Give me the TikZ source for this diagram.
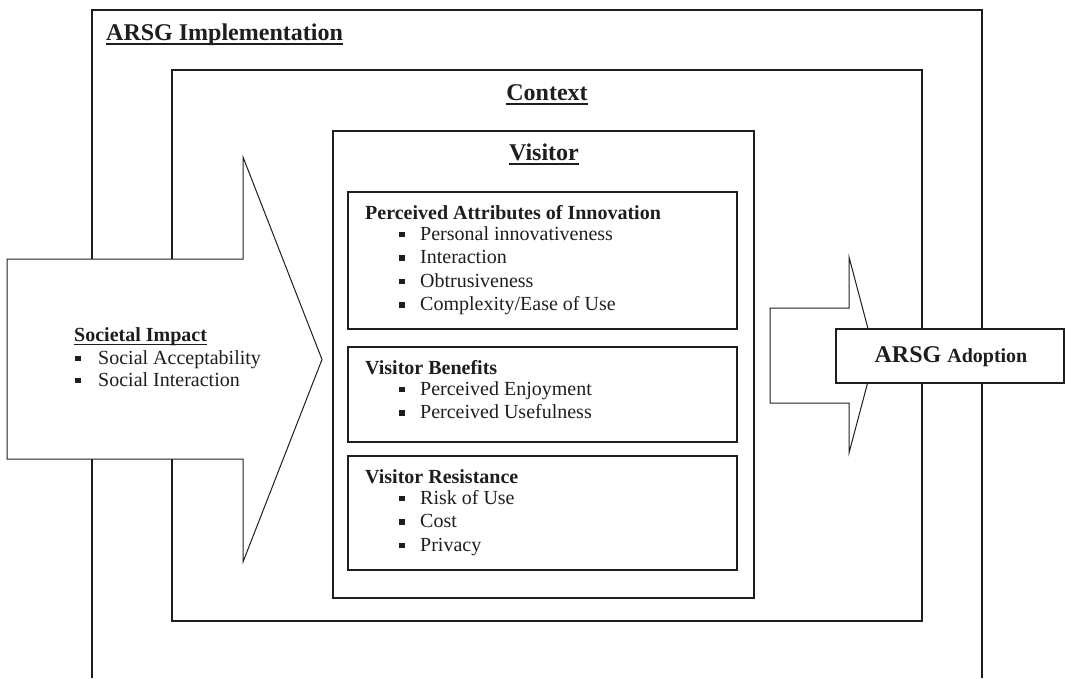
\documentclass[tikz,border=0pt]{standalone}
\usepackage{fontspec}
\setmainfont{Liberation Serif}
\definecolor{ink}{HTML}{1E1E1E}
\newcommand{\bigfont}{\fontsize{24}{28}\selectfont\bfseries}
\newcommand{\midfont}{\fontsize{20}{24}\selectfont}
\newcommand{\bulbox}[1]{\makebox[#1][l]{\rule[3pt]{5.5pt}{5.5pt}}}
\tikzset{
  frame/.style={draw=ink, line width=1.3pt},
  arrowshape/.style={draw=ink, line width=1pt, fill=white},
  txt/.style={inner sep=0pt, anchor=base west, text=ink, font=\midfont},
  ttl/.style={inner sep=0pt, anchor=base, text=ink, font=\bigfont},
  ul/.style={draw=ink, line width=1.8pt},
}
\begin{document}
\begin{tikzpicture}[x=1pt,y=-1pt]
\useasboundingbox (0,0) rectangle (1065,678);
% outer frame (open at the bottom)
\draw[frame] (92,678) -- (92,10) -- (982,10) -- (982,678);
\node[txt, font=\bigfont] (impl) at (106,40) {ARSG Implementation};
\draw[ul] ([yshift=-4pt]impl.base west) -- ([yshift=-4pt]impl.base east);
% context
\draw[frame] (172,70) rectangle (922,621);
\node[ttl] (ctx) at (547,100) {Context};
\draw[ul] ([yshift=-4pt]ctx.base west) -- ([yshift=-4pt]ctx.base east);
% visitor
\draw[frame] (333,131) rectangle (754,598);
\node[ttl] (vis) at (544,160) {Visitor};
\draw[ul] ([yshift=-4pt]vis.base west) -- ([yshift=-4pt]vis.base east);
% inner boxes
\draw[frame] (348,192) rectangle (737,329);
\draw[frame] (348,347) rectangle (737,442);
\draw[frame] (348,456) rectangle (737,570);
\node[txt, font=\midfont\bfseries] (pa) at (365,219) {Perceived Attributes of Innovation};
\node[txt] (pa1) at (399,240) {\bulbox{21pt}Personal innovativeness};
\node[txt] (pa2) at (399,263.5) {\bulbox{21pt}Interaction};
\node[txt] (pa3) at (399,287) {\bulbox{21pt}Obtrusiveness};
\node[txt] (pa4) at (399,310.5) {\bulbox{21pt}Complexity/Ease of Use};
\node[txt, font=\midfont\bfseries] (vb) at (365,374) {Visitor Benefits};
\node[txt] (vb1) at (399,395) {\bulbox{21pt}Perceived Enjoyment};
\node[txt] (vb2) at (399,418.5) {\bulbox{21pt}Perceived Usefulness};
\node[txt, font=\midfont\bfseries] (vr) at (365,483) {Visitor Resistance};
\node[txt] (vr1) at (399,504) {\bulbox{21pt}Risk of Use};
\node[txt] (vr2) at (399,527.5) {\bulbox{21pt}Cost};
\node[txt] (vr3) at (399,551) {\bulbox{21pt}Privacy};
% left block arrow
\draw[arrowshape] (7,259) -- (243,259) -- (243,157) -- (322,359.5) -- (243,562) -- (243,459) -- (7,459) -- cycle;
\node[txt, font=\midfont\bfseries] (si) at (74,341) {Societal Impact};
\draw[ul, line width=1.5pt] ([yshift=-3.5pt]si.base west) -- ([yshift=-3.5pt]si.base east);
\node[txt] (si1) at (75,364) {\bulbox{23pt}Social Acceptability};
\node[txt] (si2) at (75,386) {\bulbox{23pt}Social Interaction};
% right block arrow
\draw[arrowshape] (770,308) -- (849,308) -- (849,257) -- (875,355) -- (849,453) -- (849,403) -- (770,403) -- cycle;
\draw[frame, fill=white] (836,329) rectangle (1064,383);
\node[ttl] (adopt) at (951,362) {ARSG {\midfont\bfseries Adoption}};
\end{tikzpicture}
\end{document}
